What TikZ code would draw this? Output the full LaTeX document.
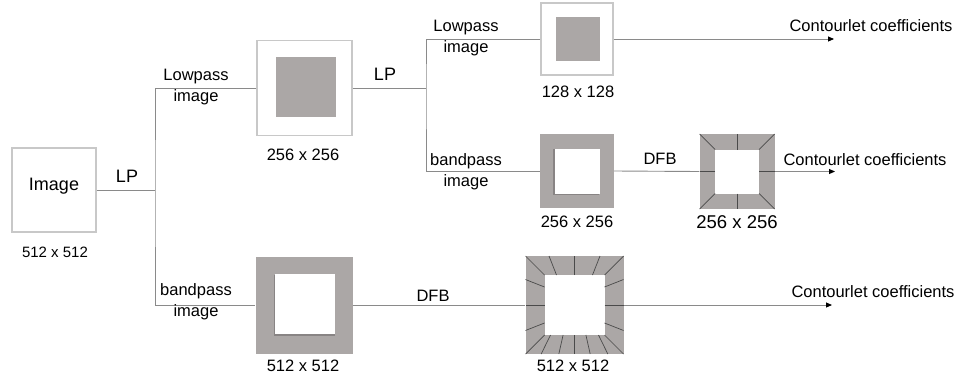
\documentclass[tikz,border=0pt]{standalone}
\usepackage{fontspec}
\setmainfont{Liberation Sans}
\usetikzlibrary{arrows.meta}
\definecolor{fillg}{HTML}{ABA7A6}
\definecolor{shadg}{HTML}{888484}
\definecolor{lineg}{HTML}{8A8A8A}
\definecolor{boxg}{HTML}{C8C8C8}
\definecolor{dfbl}{HTML}{4A4A4A}
\begin{document}
\begin{tikzpicture}[x=1pt,y=-1pt,
  conn/.style={draw=lineg, line width=0.9pt},
  arr/.style={conn, -{Triangle[length=6pt,width=5pt,color=black,fill=black]}},
  wframe/.style={draw=boxg, line width=1.3pt, fill=white, inner sep=0pt, minimum size=#1},
  gframe/.style={draw=none, fill=fillg, inner sep=0pt, minimum size=#1},
  gsq/.style={draw=none, fill=fillg, inner sep=0pt, minimum size=#1},
  wsq/.style={draw=none, fill=white, inner sep=0pt, minimum size=#1},
  shsq/.style={draw=none, fill=shadg, inner sep=0pt, minimum size=#1},
  lbl/.style={font=\fontsize{16.5}{21}\selectfont, inner sep=0pt, align=center},
  biglbl/.style={font=\fontsize{18}{21}\selectfont, inner sep=0pt},
  smalllbl/.style={font=\fontsize{15}{18}\selectfont, inner sep=0pt},
  dfbline/.style={draw=dfbl, line width=0.7pt}
]
\useasboundingbox (0,0) rectangle (960,383);

% ---- Boxes ----
\node[wframe=84] (img) at (54,190) {};
\node[biglbl] (imgtxt) at (54,186) {Image};

\node[wframe=95] (lp256) at (304.5,88) {};
\node[gsq=60] (lp256in) at (305.5,87) {};

\node[wframe=72] (lp128) at (577,39) {};
\node[gsq=44] (lp128in) at (578,38.5) {};

\node[gframe=74] (bp256) at (577,171) {};
\node[shsq=46] (bp256sh) at (576,172.4) {};
\node[wsq=45] (bp256in) at (577,171) {};

\node[gframe=75] (dfb256) at (737,171.5) {};
\node[wsq=44] (dfb256in) at (737,171.5) {};

\node[gframe=97] (bp512) at (304,305) {};
\node[shsq=61] (bp512sh) at (304,305.4) {};
\node[wsq=60] (bp512in) at (305,304) {};

\node[gframe=98] (dfb512) at (574.5,305) {};
\node[wsq=60] (dfb512in) at (574.5,305) {};

% DFB 256 lines: corners + centre lines
\begin{scope}[shift={(737,171.5)}]
  \foreach \sx/\sy in {1/1,1/-1,-1/1,-1/-1}
    \draw[dfbline] (22*\sx,22*\sy) -- (37.5*\sx,37.5*\sy);
  \draw[dfbline] (0,-22) -- (0,-37.5);
  \draw[dfbline] (0,22) -- (0,37.5);
  \draw[dfbline] (-22,0) -- (-37.5,0);
  \draw[dfbline] (22,0) -- (37.5,0);
\end{scope}

% DFB 512 lines: fan of wedges
\begin{scope}[shift={(574.5,305)}]
  \foreach \sx/\sy in {1/1,1/-1,-1/1,-1/-1}
    \draw[dfbline] (30*\sx,30*\sy) -- (49*\sx,49*\sy);
  % top
  \foreach \t/\u in {-0.6/-0.52,0/0,0.6/0.52}
    \draw[dfbline] (30*\t,-30) -- (49*\u,-49);
  % left and right
  \foreach \t/\u in {-0.6/-0.52,0/0,0.6/0.52}{
    \draw[dfbline] (-30,30*\t) -- (-49,49*\u);
    \draw[dfbline] (30,30*\t) -- (49,49*\u);
  }
  % bottom
  \foreach \t/\u in {-0.8/-0.68,-0.38/-0.32,0/0,0.38/0.32,0.8/0.68}
    \draw[dfbline] (30*\t,30) -- (49*\u,49);
\end{scope}

% ---- Junctions and ends ----
\coordinate (j1) at (155,190);
\coordinate (j2) at (426,88);
\coordinate (end1) at (834,39);
\coordinate (end2) at (835,171.5);
\coordinate (end3) at (832,305);

% ---- Connectors ----
\draw[conn] (img.east) -- (j1);
\draw[conn] (lp256.west) -| (j1) |- (bp512.west);
\draw[conn] (lp256.east) -- (j2);
\draw[conn] (lp128.west) -| (j2) |- (bp256.west);
\draw[conn] (bp256.east) -- (dfb256.west);
\draw[conn] (bp512.east) -- (dfb512.west);
\draw[arr] (lp128.east) -- (end1);
\draw[arr] (dfb256.east) -- (end2);
\draw[arr] (dfb512.east) -- (end3);

% ---- Labels ----
\node[smalllbl] (s1) at (55,252) {512 x 512};
\node[biglbl] (lp1) at (127,176) {LP};
\node[lbl] (lo1) at (196,87) {Lowpass\\image};
\node[lbl] (bp1) at (196,302) {bandpass\\image};
\node[lbl] (s2) at (303,155) {256 x 256};
\node[biglbl] (lp2) at (385,74) {LP};
\node[lbl] (lo2) at (466,38) {Lowpass\\image};
\node[lbl] (s3) at (578,92) {128 x 128};
\node[lbl] (bp2) at (466,172) {bandpass\\image};
\node[lbl] (s4) at (577,222) {256 x 256};
\node[lbl] (dfbl1) at (660,159) {DFB};
\node[font=\fontsize{18.5}{21}\selectfont, inner sep=0pt] (s5) at (737,222) {256 x 256};
\node[lbl] (cc1) at (871,26) {Contourlet coefficients};
\node[lbl] (cc2) at (865,160) {Contourlet coefficients};
\node[lbl] (dfbl2) at (433,296) {DFB};
\node[lbl] (s6) at (303,366) {512 x 512};
\node[lbl] (s7) at (573,366) {512 x 512};
\node[lbl] (cc3) at (873,292) {Contourlet coefficients};
\end{tikzpicture}
\end{document}
